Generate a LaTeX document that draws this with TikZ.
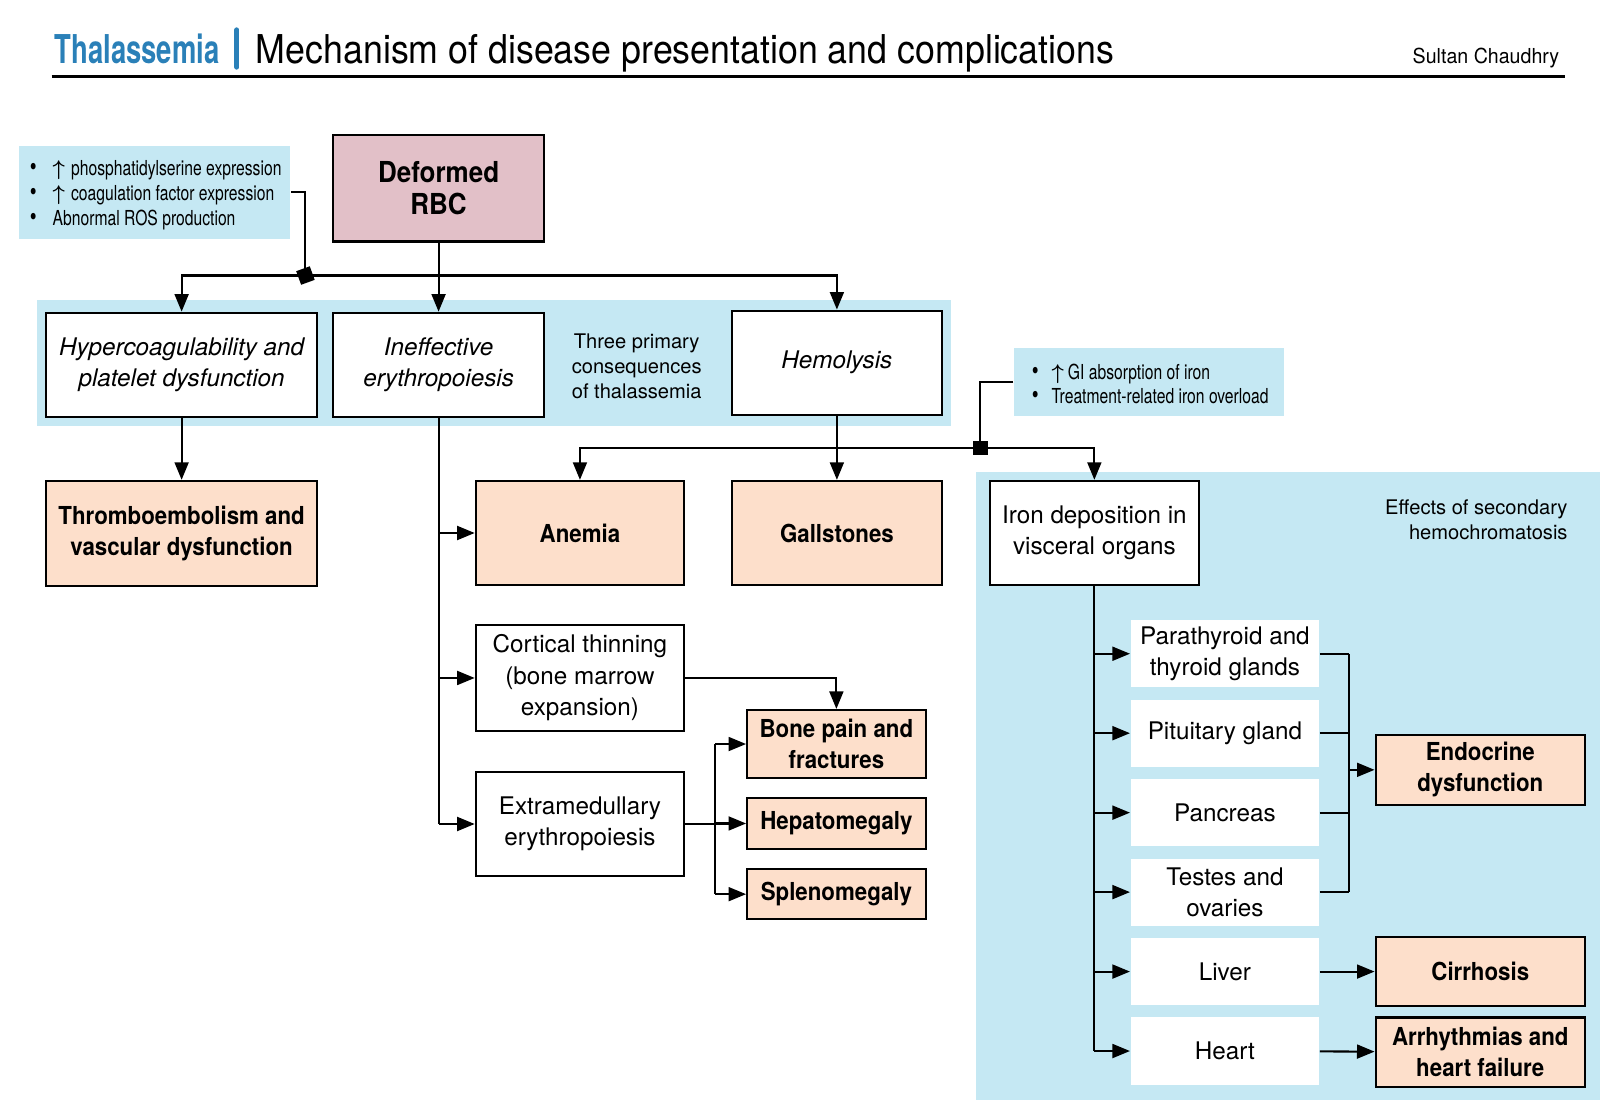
\documentclass[tikz,border=0pt]{standalone}
\usepackage{fontspec}
\setmainfont{TeX Gyre Heros}
\newfontfamily\cnfont[FakeStretch=0.76]{TeX Gyre Heros}
\newfontfamily\bcnfont[FakeStretch=0.9]{TeX Gyre Heros}
\newfontfamily\ttlfont[FakeStretch=0.9]{TeX Gyre Heros}
\newfontfamily\thalfont[FakeStretch=0.69]{TeX Gyre Heros}
\newfontfamily\sultanfont[FakeStretch=0.95]{TeX Gyre Heros}
\usetikzlibrary{arrows.meta}
\definecolor{bandblue}{RGB}{197,232,243}
\definecolor{peach}{RGB}{253,223,203}
\definecolor{rbcpink}{RGB}{226,192,200}
\definecolor{ttlblue}{RGB}{42,128,184}
\newcommand{\bul}[1]{\makebox[#1][l]{\fontsize{25}{24}\selectfont\textbullet}}
\newcommand{\uparr}{{\boldmath$\uparrow$}}
\begin{document}
\begin{tikzpicture}[x=1pt,y=-1pt,
  line width=2pt,
  arr/.style={-{Triangle[length=17pt,width=13.5pt]}},
  bx/.style={draw, line width=2pt, fill=white, align=center, inner sep=0pt, font=\fontsize{23.5}{30.5}\selectfont},
  ibx/.style={bx, font=\fontsize{23.5}{30.5}\selectfont\itshape},
  pbx/.style={bx, fill=peach, font=\fontsize{24}{30}\selectfont\bcnfont\bfseries},
  obx/.style={fill=white, align=center, inner sep=0pt, minimum width=182pt, minimum height=65pt, font=\fontsize{23.5}{30.5}\selectfont},
  band/.style={fill=bandblue, draw=none, inner sep=0pt},
  sq/.style={fill=black, minimum size=14pt, inner sep=0pt, draw=none},
  notetxt/.style={align=left, inner sep=0pt, font=\fontsize{20}{24}\selectfont\cnfont},
  plain/.style={inner sep=0pt, font=\fontsize{19.5}{24}\selectfont},
]
\useasboundingbox (0,0) rectangle (1566,1083.4);

% ---- title ----
\node[anchor=base west, inner sep=0pt, font=\fontsize{38.5}{40}\selectfont\thalfont\bfseries, text=ttlblue] (thal) at (52,62) {Thalassemia};
\draw[ttlblue, line width=5pt, line cap=round] (229.5,29) -- (229.5,65);
\node[anchor=base west, inner sep=0pt, font=\fontsize{38.5}{40}\selectfont\ttlfont] (ttl) at (247,62) {Mechanism of disease presentation and complications};
\node[anchor=base east, inner sep=0pt, font=\fontsize{20}{22}\selectfont\sultanfont] (auth) at (1512,62) {Sultan Chaudhry};
\draw[line width=2.5pt] (50,74) -- (1517,74);

% ---- background bands ----
\fill[bandblue] (36,291) rectangle (922,413);
\fill[bandblue] (946,457) rectangle (1550,1066);

% ---- note boxes ----
\node[band, minimum width=263pt, minimum height=91pt] (bul1) at (149.5,186.5) {};
\node[notetxt, anchor=west] (bul1t) at (28,189) {\bul{22pt}\uparr\hspace{6pt}phosphatidylserine expression\\\bul{22pt}\uparr\hspace{6pt}coagulation factor expression\\\bul{22pt}Abnormal ROS production};
\node[band, minimum width=261pt, minimum height=66pt] (bul2) at (1113.5,370) {};
\node[notetxt, anchor=west] (bul2t) at (999,372) {\bul{19pt}\uparr\hspace{4pt}GI absorption of iron\\\bul{19pt}Treatment-related iron overload};

% ---- main nodes ----
\node[bx, fill=rbcpink, minimum width=204pt, minimum height=103pt, font=\fontsize{28}{31}\selectfont\bcnfont\bfseries] (rbc) at (425,182.5) {Deformed\\RBC};
\node[ibx, minimum width=262pt, minimum height=101pt] (hyper) at (176,353.5) {Hypercoagulability and\\platelet dysfunction};
\node[ibx, minimum width=204pt, minimum height=101pt] (ineff) at (425,353.5) {Ineffective\\erythropoiesis};
\node[plain, align=center] (three) at (617,355) {Three primary\\consequences\\of thalassemia};
\node[ibx, minimum width=204pt, minimum height=101pt] (hemo) at (811,351.5) {Hemolysis};

\node[pbx, minimum width=262pt, minimum height=102pt] (thrombo) at (176,517) {Thromboembolism and\\vascular dysfunction};
\node[pbx, minimum width=202pt, minimum height=101pt] (anemia) at (562,516.5) {Anemia};
\node[pbx, minimum width=204pt, minimum height=101pt] (gall) at (811,516.5) {Gallstones};
\node[bx, minimum width=203pt, minimum height=101pt] (iron) at (1060.5,516.5) {Iron deposition in\\visceral organs};
\node[plain, align=right, anchor=east] (effects) at (1520,504) {Effects of secondary\\hemochromatosis};

\node[bx, minimum width=202pt, minimum height=102pt] (cort) at (562,657) {Cortical thinning\\(bone marrow\\expansion)};
\node[bx, minimum width=202pt, minimum height=101pt] (extra) at (562,798.5) {Extramedullary\\erythropoiesis};
\node[pbx, minimum width=173pt, minimum height=66pt] (bone) at (810.5,721) {Bone pain and\\fractures};
\node[pbx, minimum width=173pt, minimum height=50pt] (hepat) at (810.5,798) {Hepatomegaly};
\node[pbx, minimum width=173pt, minimum height=49pt] (splen) at (810.5,866.5) {Splenomegaly};

\node[obx] (para) at (1187,633.5) {Parathyroid and\\thyroid glands};
\node[obx] (pit) at (1187,710.5) {Pituitary gland};
\node[obx] (panc) at (1187,787.5) {Pancreas};
\node[obx] (test) at (1187,864.5) {Testes and\\ovaries};
\node[obx] (liver) at (1187,941.5) {Liver};
\node[obx] (heart) at (1187,1018.5) {Heart};

\node[pbx, minimum width=203pt, minimum height=68pt] (endo) at (1434.5,746) {Endocrine\\dysfunction};
\node[pbx, minimum width=203pt, minimum height=67pt] (cirr) at (1434.5,941.5) {Cirrhosis};
\node[pbx, minimum width=203pt, minimum height=67pt] (arrh) at (1434.5,1019.5) {Arrhythmias and\\heart failure};

% ---- helper coordinates ----
\coordinate (bus1) at (0,267);
\coordinate (bus2) at (0,434);
\coordinate (xbr) at (693,0);
\coordinate (ebus) at (1307,0);

% ---- connectors ----
\draw[arr] (rbc.south) -- (ineff.north);
\draw[arr] (rbc.south |- bus1) -| (hyper.north);
\draw[arr] (rbc.south |- bus1) -| (hemo.north);
\node[sq, rotate=20] (sq1) at (296,267) {};
\draw (bul1.east) -| (sq1.center);

\draw[arr] (hyper) -- (thrombo);

\draw[arr] (hemo.south) -- (gall.north);
\draw[arr] (hemo.south |- bus2) -| (anemia.north);
\draw[arr] (hemo.south |- bus2) -| (iron.north);
\node[sq] (sq2) at (950,434) {};
\draw (bul2.west) -| (sq2.center);

\draw (ineff.south) -- (ineff.south |- extra.west);
\draw[arr] (ineff.south |- anemia.west) -- (anemia.west);
\draw[arr] (ineff.south |- cort.west) -- (cort.west);
\draw[arr] (ineff.south |- extra.west) -- (extra.west);

\draw[arr] (cort.east) -| (bone.north);
\draw (extra.east) -- (extra.east -| xbr);
\draw (xbr |- bone.west) -- (xbr |- splen.west);
\draw[arr] (xbr |- bone.west) -- (bone.west);
\draw[arr] (xbr |- hepat.west) -- (hepat.west);
\draw[arr] (xbr |- splen.west) -- (splen.west);

\draw (iron.south) -- (iron.south |- heart.west);
\foreach \o in {para,pit,panc,test,liver,heart}
  \draw[arr] (iron.south |- \o.west) -- (\o.west);
\foreach \o in {para,pit,panc,test}
  \draw (\o.east) -- (\o.east -| ebus);
\draw (para.east -| ebus) -- (test.east -| ebus);
\draw[arr] (endo.west -| ebus) -- (endo.west);
\draw[arr] (liver) -- (cirr);
\draw[arr] (heart) -- (arrh);
\end{tikzpicture}
\end{document}
